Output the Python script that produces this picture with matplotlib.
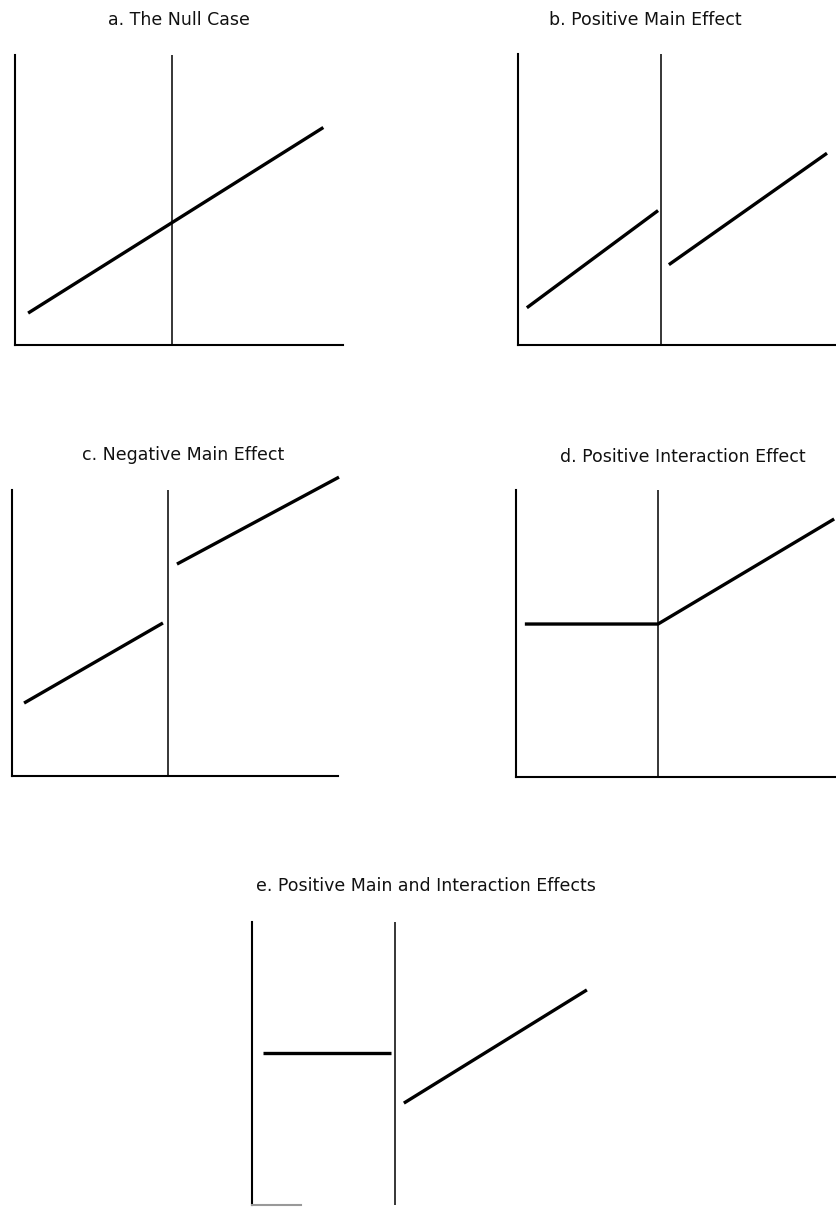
import matplotlib.pyplot as plt

# panel titles
titles = ['a. The Null Case', 'b. Positive Main Effect', 'c. Negative Main Effect',
          'd. Positive Interaction Effect', 'e. Positive Main and Interaction Effects']

# cutoff position on the x scale (0..100) for each panel
cutoffs = [48, 43.6, 47.9, 43.3, 43.6]

# line segments per panel: (x list, y list), on a 0..100 scale
seg_a = [([4, 94], [11, 75])]
seg_b = [([2.7, 42.7], [12.8, 46.2]), ([46, 94.2], [27.6, 65.9])]
seg_c = [([3.7, 46.3], [25.5, 53.5]), ([50.6, 100.3], [74.1, 104.5])]
seg_d = [([2.7, 43.3, 97], [53.3, 53.3, 89.9])]
seg_e = [([3.4, 42.4], [53.7, 53.7]), ([46.3, 102.1], [36.0, 76.0])]
segments = [seg_a, seg_b, seg_c, seg_d, seg_e]

W, H = 836, 1207
fig = plt.figure(figsize=(W / 100, H / 100), dpi=100)

# axes boxes in pixels: left, top, width, height
boxes = [(15, 55, 328, 290), (518, 54, 328, 291), (12, 490, 326, 286),
         (516, 490, 328, 287), (252, 922, 328, 283)]
# title centres in pixels
title_pos = [(179, 20), (645, 20), (183, 455), (683, 457), (426, 886)]

for i, (l, t, w, h) in enumerate(boxes):
    ax = fig.add_axes([l / W, 1 - (t + h) / H, w / W, h / H])
    ax.set_xlim(0, 100)
    ax.set_ylim(0, 100)
    ax.set_xticks([])
    ax.set_yticks([])
    for s in ['top', 'right']:
        ax.spines[s].set_visible(False)
    ax.spines['left'].set_linewidth(1.5)
    ax.spines['bottom'].set_linewidth(1.5)
    if i == 4:
        ax.spines['bottom'].set_bounds(0, 15)
        ax.spines['bottom'].set_color('#999999')
    ax.axvline(cutoffs[i], color='black', lw=1.1)
    for xs, ys in segments[i]:
        ax.plot(xs, ys, color='black', lw=2.4, solid_capstyle='butt', clip_on=False)
    fig.text(title_pos[i][0] / W, 1 - title_pos[i][1] / H, titles[i],
             ha='center', va='center', fontsize=12.5, family='DejaVu Sans',
             color='#111111')

plt.savefig('out.png', dpi=100)
